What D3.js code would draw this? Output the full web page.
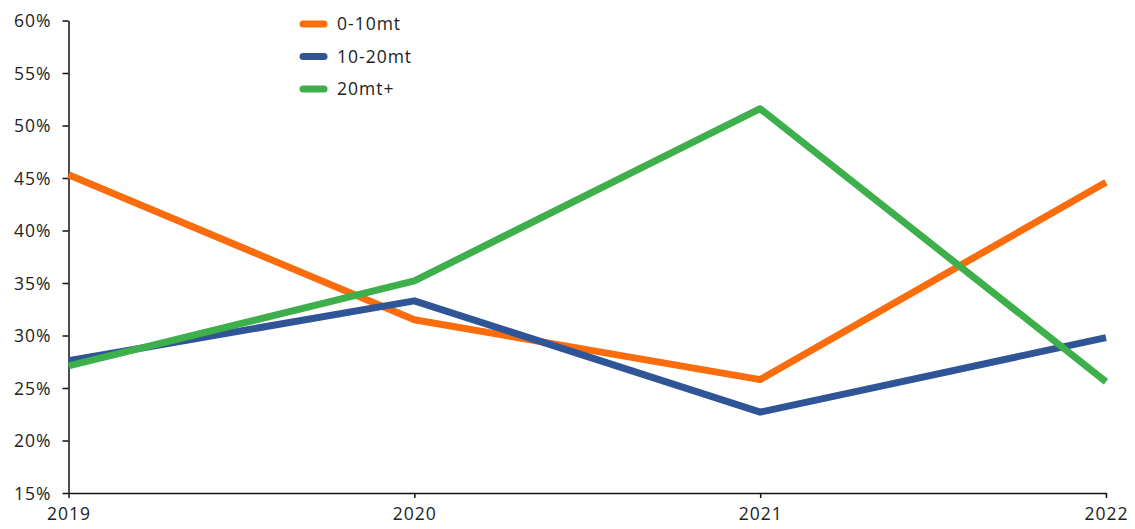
<!DOCTYPE html>
<html>
<head>
<meta charset="utf-8">
<script src="https://cdn.jsdelivr.net/npm/d3@7"></script>
<style>
  html, body { margin: 0; padding: 0; background: #fff; }
  svg { display: block; }
  text { font-family: "Open Sans", "Lato", sans-serif; fill: #222; letter-spacing: 1px; }
</style>
</head>
<body>
<svg id="chart" width="1135" height="529"></svg>
<script>
// Share of volume by size band, per year (%)
const years = ["2019", "2020", "2021", "2022"];
const seriesNames = ["0-10mt", "10-20mt", "20mt+"];
const band0to10 = [45.3, 31.5, 25.8, 44.6];
const band10to20 = [27.6, 33.3, 22.7, 29.8];
const band20plus = [27.1, 35.2, 51.6, 25.6];
const yTicks = [15, 20, 25, 30, 35, 40, 45, 50, 55, 60];
const colors = ["#FA6C0C", "#2F5597", "#3DAF4B"];

const series = [band0to10, band10to20, band20plus];

const margin = { left: 68.5, right: 1106, top: 20.5, bottom: 493 };
const svg = d3.select("#chart");
const labelFont = "'Open Sans', Lato, sans-serif";

const x = d3.scalePoint().domain(years).range([margin.left, margin.right]);
const y = d3.scaleLinear().domain([15, 60]).range([margin.bottom, margin.top]);

// Axes
const yAxis = svg.append("g")
  .attr("transform", `translate(${margin.left},0)`)
  .call(d3.axisLeft(y).tickValues(yTicks).tickFormat(d => d + "%").tickSize(6).tickSizeOuter(0));
yAxis.select(".domain").attr("stroke", "#111").attr("stroke-width", 1.5);
yAxis.selectAll(".tick line").attr("stroke", "#111").attr("stroke-width", 1.5);
yAxis.selectAll(".tick text").attr("x", -17).attr("dy", "0.35em")
  .style("font-size", "17.5px").style("font-family", labelFont).attr("fill", "#222");

const xAxis = svg.append("g")
  .attr("transform", `translate(0,${margin.bottom})`)
  .call(d3.axisBottom(x).tickSize(5).tickSizeOuter(0));
xAxis.select(".domain").attr("stroke", "#111").attr("stroke-width", 1.5);
xAxis.selectAll(".tick line").attr("stroke", "#111").attr("stroke-width", 1.5);
xAxis.selectAll(".tick text").attr("y", 15).attr("dy", "0.71em")
  .style("font-size", "17.5px").style("font-family", labelFont).attr("fill", "#222");

// Lines
const line = d3.line().x((d, i) => x(years[i])).y(d => y(d));
svg.append("g").selectAll("path")
  .data(series)
  .join("path")
  .attr("d", d => line(d))
  .attr("fill", "none")
  .attr("stroke", (d, i) => colors[i])
  .attr("stroke-width", 7)
  .attr("stroke-linejoin", "round");

// Legend
const legend = svg.append("g").attr("transform", "translate(300,24)");
const rows = legend.selectAll("g").data(seriesNames).join("g")
  .attr("transform", (d, i) => `translate(0,${i * 32.5})`);
rows.append("line")
  .attr("x1", 3).attr("x2", 24).attr("y1", 0).attr("y2", 0)
  .attr("stroke", (d, i) => colors[i])
  .attr("stroke-width", 7)
  .attr("stroke-linecap", "round");
rows.append("text")
  .attr("x", 37).attr("dy", "0.35em")
  .style("font-size", "17.5px")
  .text(d => d);
</script>
</body>
</html>
